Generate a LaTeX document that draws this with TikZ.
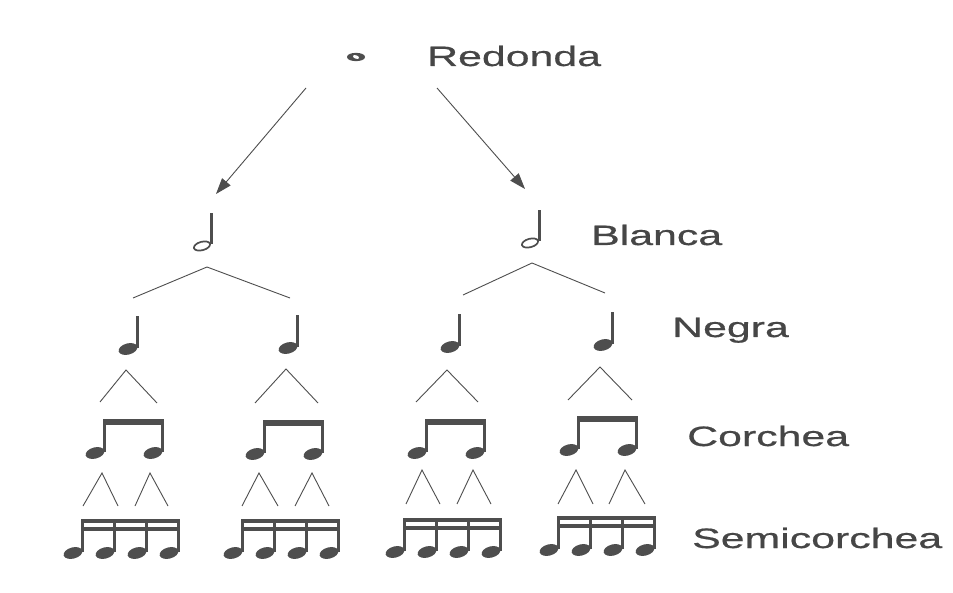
\documentclass[tikz,border=0pt]{standalone}
\usepackage{fontspec}
\newfontfamily\labfont[FakeStretch=1.53,FakeBold=0.6]{Liberation Sans}
\usetikzlibrary{arrows.meta}
\definecolor{ink}{RGB}{78,78,78}
\definecolor{txt}{RGB}{70,70,70}
\begin{document}
\begin{tikzpicture}[x=1pt,y=-1pt,
  lab/.style={anchor=base west, inner sep=0pt, text=txt, font=\labfont\fontsize{28}{30}\selectfont},
  conn/.style={draw=ink, line width=0.9pt},
  arr/.style={conn, -{Triangle[length=16pt,width=11pt]}},
  pics/wholenote/.style={code={
     \fill[ink] (-9,0) .. controls (-9,-5.5) and (9,-5.5) .. (9,0)
                       .. controls (9,5.5) and (-9,5.5) .. (-9,0) -- cycle;
     \fill[white, rotate=-20] (0,0) ellipse (3.2 and 1.7);}},
  pics/halfnote/.style={code={
     \draw[ink, line width=1.7pt, rotate=15] (0,0) ellipse (8.3 and 4.2);
     \fill[ink] (8,-33) rectangle (10.5,-1.5);}},
  pics/quarternote/.style={code={
     \fill[ink, rotate=15] (0,0) ellipse (9.6 and 5.6);
     \fill[ink] (7.6,-33) rectangle (10.6,-1);}},
  pics/eighthpair/.style={code={
     \foreach \dx in {0,58}{
       \fill[ink, rotate around={15:(\dx,0)}] (\dx,0) ellipse (9.6 and 5.6);
       \fill[ink] (\dx+7.6,-34) rectangle (\dx+10.6,-1);}
     \fill[ink] (7.6,-34) rectangle (68.6,-28);}},
  pics/sixteenthgroup/.style={code={
     \foreach \dx in {0,32,64,96}{
       \fill[ink, rotate around={15:(\dx,0)}] (\dx,0) ellipse (9.6 and 5.6);
       \fill[ink] (\dx+7.6,-34) rectangle (\dx+10.6,-1);}
     \fill[ink] (7.6,-34) rectangle (106.6,-30);
     \fill[ink] (7.6,-26.5) rectangle (106.6,-22.5);}}
]
\useasboundingbox[fill=white] (0,0) rectangle (953,593);

% labels
\node[lab] (redonda) at (427,66) {Redonda};
\node[lab] (blanca) at (591,245) {Blanca};
\node[lab] (negra) at (672,337) {Negra};
\node[lab] (corchea) at (687,446) {Corchea};
\node[lab] (semicorchea) at (692,548) {Semicorchea};

% notes
\pic (w) at (356,57) {wholenote};
\pic at (202,246) {halfnote};
\pic at (530,243) {halfnote};
\foreach \x/\y in {128/349,288/348,450/347,603/345}
  \pic at (\x,\y) {quarternote};
\foreach \x/\y in {95/453,255/454,417/453,569/450}
  \pic at (\x,\y) {eighthpair};
\foreach \x/\y in {73/553,233/553,395/552,549/550}
  \pic at (\x,\y) {sixteenthgroup};

% arrows from Redonda
\coordinate (rl) at (306,88);
\coordinate (rr) at (437,88);
\coordinate (b1) at (216,194);
\coordinate (b2) at (525,189);
\draw[arr] (rl) -- (b1);
\draw[arr] (rr) -- (b2);

% branching connectors
\foreach \n/\ax/\ay/\lx/\ly/\rx/\ry in {
   bl/207/267/133/298/290/298,
   br/532/263/463/295/605/293,
   n1/126/370/100/402/157/403,
   n2/286/369/255/403/318/403,
   n3/447/370/416/402/478/402,
   n4/600/367/568/400/632/400,
   c1/102/473/83/506/118/506,
   c2/150/473/135/506/168/506,
   c3/259/473/242/506/278/506,
   c4/312/473/295/506/329/506,
   c5/422/470/406/504/440/504,
   c6/473/470/457/504/491/504,
   c7/576/470/558/504/593/504,
   c8/625/470/609/504/645/504}{
  \coordinate (t\n) at (\ax,\ay);
  \coordinate (l\n) at (\lx,\ly);
  \coordinate (r\n) at (\rx,\ry);
  \draw[conn] (l\n) -- (t\n) -- (r\n);
}
\end{tikzpicture}
\end{document}
